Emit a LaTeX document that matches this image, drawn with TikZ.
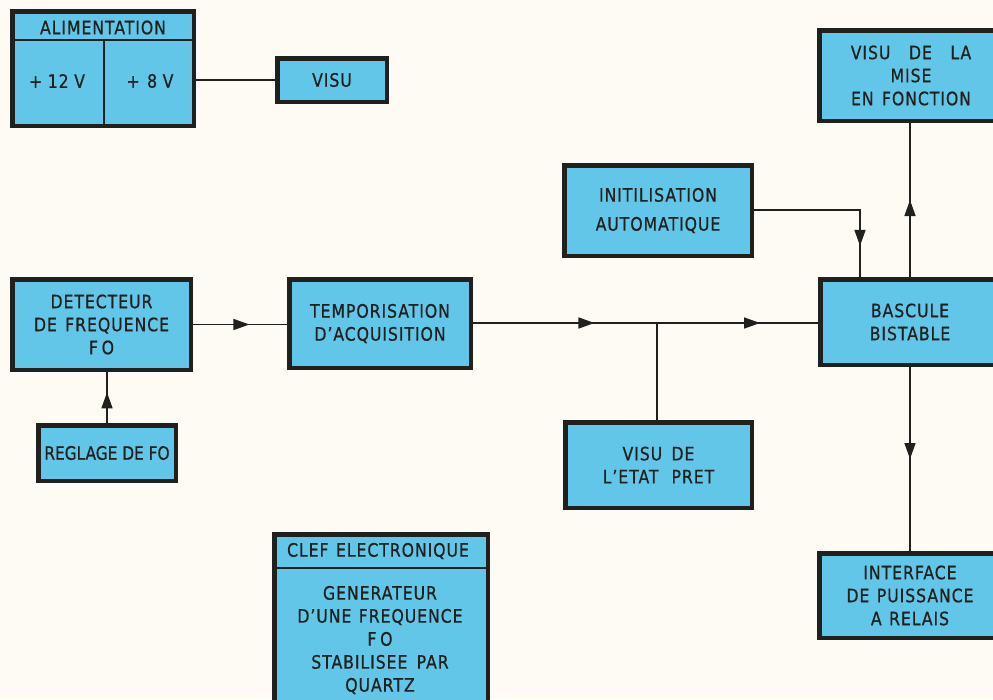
\documentclass[tikz,border=0pt]{standalone}
\usepackage{fontspec}
\newfontfamily\lab{DejaVu Sans}[FakeStretch=0.85,LetterSpace=5,FakeBold=0.6]
\newfontfamily\labtight{DejaVu Sans}[FakeStretch=0.83,LetterSpace=0,FakeBold=0.6]
\usetikzlibrary{arrows.meta,decorations.markings}
\definecolor{boxfill}{RGB}{98,198,232}
\definecolor{boxline}{RGB}{32,32,30}
\definecolor{paper}{RGB}{253,251,244}
\tikzset{
  blk/.style={draw=boxline, line width=4.5pt, fill=boxfill, inner sep=0pt,
    align=center, text=boxline, font=\lab\fontsize{18.5}{23}\selectfont},
  lbl/.style={inner sep=0pt, align=center, text=boxline,
    font=\lab\fontsize{18.5}{23}\selectfont},
  wire/.style={draw=boxline, line width=1.5pt},
  divider/.style={draw=boxline, line width=2.5pt},
  arrowat/.style={postaction={decorate}, decoration={markings,
    mark=at position #1 with {\arrow{Triangle[length=16pt,width=11pt]}}}},
}
\begin{document}
\begin{tikzpicture}[x=1pt,y=-1pt]
\useasboundingbox (0,0) rectangle (993,699);
\fill[paper] (0,0) rectangle (993,699);

% boxes
\node[blk, minimum width=181.5pt, minimum height=114.5pt] (alim) at (103,68.5) {};
\node[blk, minimum width=109.5pt, minimum height=43.5pt] (visu) at (332,80) {VISU};
\node[blk, minimum width=183.5pt, minimum height=90.5pt] (mise) at (911,75.5)
  {VISU\hspace{1em}DE\hspace{1em}LA\\MISE\\EN\hspace{0.45em}FONCTION};
\node[blk, minimum width=187.5pt, minimum height=90.5pt] (init) at (658,210.5)
  {INITILISATION\\[6pt]AUTOMATIQUE};
\node[blk, minimum width=178.5pt, minimum height=90.5pt] (detect) at (101.5,324.5)
  {DETECTEUR\\DE\hspace{0.45em}FREQUENCE\\F\hspace{0.2em}O};
\node[blk, minimum width=181.5pt, minimum height=88.5pt] (tempo) at (380,323.5)
  {TEMPORISATION\\D’ACQUISITION};
\node[blk, minimum width=179.5pt, minimum height=85.5pt] (bascule) at (910,322)
  {BASCULE\\BISTABLE};
\node[blk, minimum width=137.5pt, minimum height=55.5pt,
  font=\labtight\fontsize{18.5}{23}\selectfont] (reglage) at (107,453)
  {REGLAGE DE FO};
\node[blk, minimum width=186.5pt, minimum height=85.5pt] (etat) at (658.5,465)
  {VISU\hspace{0.5em}DE\\L’ETAT\hspace{0.7em}PRET};
\node[blk, minimum width=181.5pt, minimum height=84.5pt] (interface) at (910,595.5)
  {INTERFACE\\DE\hspace{0.4em}PUISSANCE\\A\hspace{0.4em}RELAIS};
\node[blk, minimum width=213.5pt, minimum height=183.5pt] (clef) at (381,626) {};

% inner dividers and texts of the compound boxes
\draw[divider] (alim.west |- 0,40) -- (alim.east |- 0,40);
\draw[divider] (104,40) -- (alim.south -| 104,0);
\node[lbl] (alimtitle) at (103,27.5) {ALIMENTATION};
\node[lbl] (v12) at (57,81) {+\hspace{0.3em}12\hspace{0.3em}V};
\node[lbl] (v8) at (150,81) {+\hspace{0.4em}8\hspace{0.3em}V};

\draw[divider] (clef.west |- 0,568) -- (clef.east |- 0,568);
\node[lbl] (cleftitle) at (378,551) {CLEF\hspace{0.4em}ELECTRONIQUE};
\node[lbl] (clefbody) at (380,640)
  {GENERATEUR\\D’UNE\hspace{0.4em}FREQUENCE\\F\hspace{0.2em}O\\STABILISEE\hspace{0.5em}PAR\\QUARTZ};

% connectors
\draw[wire] (visu.west) -- (visu.west -| alim.east);
\draw[wire, arrowat=0.6] (detect.east) -- (detect.east -| tempo.west);
\draw[wire, arrowat=0.6] (reglage.north) -- (reglage.north |- detect.south);
\coordinate (junction) at (657,323);
\draw[wire, arrowat=0.66] (tempo.east |- junction) -- (junction);
\draw[wire, arrowat=0.64] (junction) -- (junction -| bascule.west);
\draw[wire] (etat.north -| junction) -- (junction);
\coordinate (initin) at (860,210);
\draw[wire, arrowat=0.82] (init.east |- initin) -- (initin) -- (initin |- bascule.north);
\draw[wire, arrowat=0.5] (bascule.north) -- (bascule.north |- mise.south);
\draw[wire, arrowat=0.5] (bascule.south) -- (bascule.south |- interface.north);
\end{tikzpicture}
\end{document}
